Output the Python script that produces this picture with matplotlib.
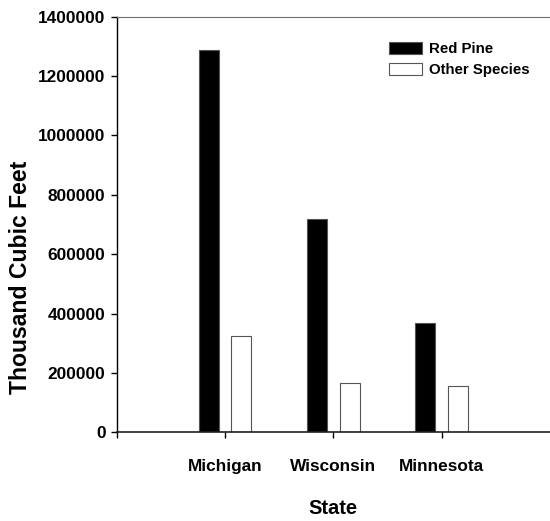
import matplotlib
matplotlib.use("Agg")
import matplotlib.pyplot as plt
import numpy as np

states = ["Michigan", "Wisconsin", "Minnesota"]
red_pine = [1287000, 718000, 369000]
other_species = [325000, 165000, 157000]
y_ticks = [0, 200000, 400000, 600000, 800000, 1000000, 1200000, 1400000]

plt.rcParams["font.family"] = ["Liberation Sans", "DejaVu Sans"]
plt.rcParams["font.weight"] = "bold"

fig = plt.figure(figsize=(5.5, 5.21), dpi=100)
ax = fig.add_axes([0.2122, 0.170, 0.7878, 0.798])

x = np.arange(1, len(states) + 1)
w = 0.185
ax.bar(x - 0.15, red_pine, w, color="black", edgecolor="#555555", linewidth=0.8, label="Red Pine")
ax.bar(x + 0.15, other_species, w, color="white", edgecolor="#555555", linewidth=0.8, label="Other Species")

ax.set_xlim(0, 4)
ax.set_ylim(0, 1400000)
ax.set_yticks(y_ticks)
ax.set_yticklabels([str(v) for v in y_ticks], fontsize=12.4, fontweight="bold")
ax.set_xticks([0, 1, 2, 3])
ax.set_xticklabels([""] + states, fontsize=12.4, fontweight="bold")
ax.tick_params(axis="y", direction="out", length=4, width=1, pad=4)
ax.tick_params(axis="x", direction="out", length=4, width=1, pad=15)

ax.spines["right"].set_visible(False)
ax.spines["top"].set_color("#707070")
ax.spines["left"].set_linewidth(1)
ax.spines["bottom"].set_linewidth(1.2)
ax.spines["bottom"].set_color("#202020")

ax.set_xlabel("State", fontsize=14.5, fontweight="bold", labelpad=18)
ax.set_ylabel("Thousand Cubic Feet", fontsize=16.6, fontweight="bold")
# the original y label sits below the middle of the axis
ax.yaxis.set_label_coords(-0.195, 0.373)

ax.legend(loc="upper left", bbox_to_anchor=(0.61, 0.958), frameon=False,
          prop={"size": 10.8, "weight": "bold"}, handlelength=2.2, handleheight=0.85,
          borderpad=0, labelspacing=0.45, handletextpad=0.5)

fig.savefig("out.png", dpi=100)
